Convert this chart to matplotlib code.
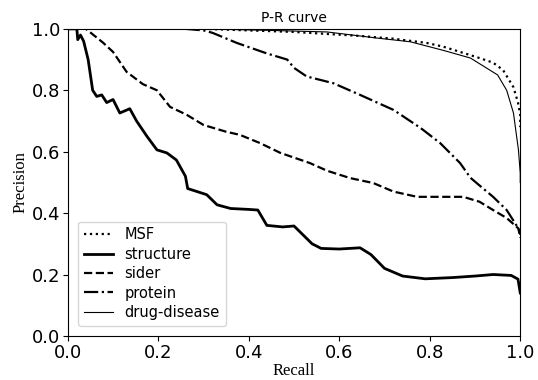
import matplotlib
matplotlib.use("Agg")
import matplotlib.pyplot as plt

# MSF (dotted)
msf_r = [0.0, 0.1, 0.3, 0.5, 0.646, 0.72, 0.794, 0.83, 0.867, 0.91, 0.94, 0.962, 0.985, 0.995, 1.0, 1.0]
msf_p = [1.0, 1.0, 1.0, 0.99, 0.977, 0.968, 0.954, 0.942, 0.925, 0.905, 0.89, 0.866, 0.81, 0.76, 0.72, 0.68]

# structure (thick solid)
str_r = [0.0, 0.015, 0.02, 0.022, 0.028, 0.035, 0.045, 0.055, 0.064, 0.075, 0.086, 0.10, 0.115, 0.137, 0.152,
         0.175, 0.197, 0.219, 0.24, 0.26, 0.265, 0.307, 0.33, 0.36, 0.40, 0.42, 0.44, 0.475, 0.50, 0.54, 0.56,
         0.60, 0.646, 0.67, 0.70, 0.74, 0.79, 0.85, 0.90, 0.94, 0.98, 0.995, 1.0]
str_p = [1.0, 1.0, 1.0, 0.965, 0.98, 0.96, 0.90, 0.80, 0.78, 0.785, 0.76, 0.77, 0.726, 0.74, 0.70,
         0.65, 0.606, 0.596, 0.573, 0.52, 0.48, 0.46, 0.427, 0.415, 0.412, 0.41, 0.36, 0.355, 0.358, 0.30, 0.285,
         0.283, 0.287, 0.265, 0.22, 0.195, 0.186, 0.19, 0.195, 0.2, 0.197, 0.185, 0.14]

# sider (dashed)
sid_r = [0.0, 0.04, 0.078, 0.10, 0.13, 0.166, 0.197, 0.226, 0.263, 0.30, 0.35, 0.38, 0.425, 0.47, 0.535,
         0.573, 0.624, 0.675, 0.72, 0.772, 0.874, 0.91, 0.94, 0.97, 0.996, 1.0]
sid_p = [1.0, 1.0, 0.955, 0.925, 0.86, 0.82, 0.80, 0.746, 0.72, 0.687, 0.665, 0.655, 0.628, 0.596, 0.563,
         0.538, 0.514, 0.498, 0.47, 0.453, 0.453, 0.437, 0.41, 0.384, 0.35, 0.32]

# protein (dash-dot)
pro_r = [0.0, 0.05, 0.26, 0.30, 0.32, 0.374, 0.44, 0.485, 0.50, 0.528, 0.587, 0.646, 0.72, 0.78, 0.823,
         0.867, 0.89, 0.91, 0.94, 0.97, 0.996, 1.0]
pro_p = [1.0, 1.0, 1.0, 0.995, 0.987, 0.954, 0.92, 0.90, 0.873, 0.845, 0.823, 0.785, 0.736, 0.677, 0.628,
         0.563, 0.515, 0.49, 0.453, 0.41, 0.35, 0.33]

# drug-disease (thin solid)
dd_r = [0.0, 0.1, 0.3, 0.45, 0.573, 0.684, 0.757, 0.83, 0.89, 0.95, 0.97, 0.985, 0.996, 1.0, 1.0]
dd_p = [1.0, 1.0, 1.0, 0.995, 0.99, 0.97, 0.958, 0.93, 0.905, 0.85, 0.80, 0.726, 0.606, 0.53, 0.50]

fig = plt.figure(figsize=(5.38, 3.8), dpi=100)
ax = fig.add_axes([0.126, 0.116, 0.841, 0.808])

ax.plot(msf_r, msf_p, color="black", linestyle=":", linewidth=1.6, label="MSF")
ax.plot(str_r, str_p, color="black", linestyle="-", linewidth=2.0, label="structure")
ax.plot(sid_r, sid_p, color="black", linestyle="--", linewidth=1.6, label="sider")
ax.plot(pro_r, pro_p, color="black", linestyle="-.", linewidth=1.6, label="protein")
ax.plot(dd_r, dd_p, color="black", linestyle="-", linewidth=0.8, label="drug-disease")

ax.set_xlim(0, 1)
ax.set_ylim(0, 1)
ax.set_xticks([0.0, 0.2, 0.4, 0.6, 0.8, 1.0])
ax.set_yticks([0.0, 0.2, 0.4, 0.6, 0.8, 1.0])
ax.tick_params(labelsize=13, pad=2)
ax.set_title("P-R curve", fontsize=10, pad=5)
ax.set_xlabel("Recall", fontsize=12, family="Liberation Serif", labelpad=1)
ax.set_ylabel("Precision", fontsize=12, family="Liberation Serif", labelpad=2)
ax.legend(loc="lower left", fontsize=10.5, handlelength=2.0, labelspacing=0.3,
          borderaxespad=0.7)

fig.savefig("out.png", dpi=100)
